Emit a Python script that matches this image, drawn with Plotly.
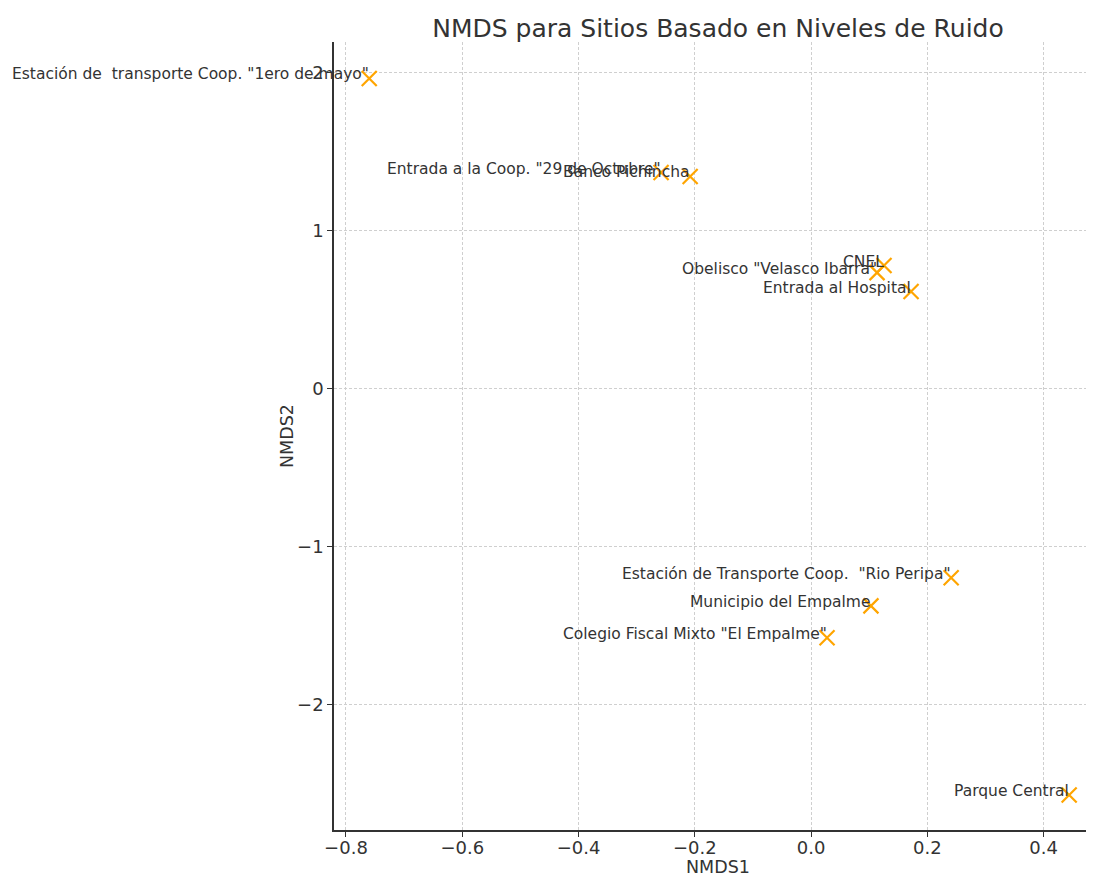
import plotly.graph_objects as go

sites = [
    'Estación de  transporte Coop. "1ero de mayo"',
    'Entrada a la Coop. "29 de Octubre"',
    'Banco Pichincha',
    'CNEL',
    'Obelisco "Velasco Ibarra"',
    'Entrada al Hospital',
    'Estación de Transporte Coop.  "Rio Peripa"',
    'Municipio del Empalme',
    'Colegio Fiscal Mixto "El Empalme"',
    'Parque Central',
]
nmds1 = [-0.760, -0.258, -0.208, 0.1255, 0.1135, 0.172, 0.241, 0.103, 0.0275, 0.444]
nmds2 = [1.965, 1.369, 1.344, 0.780, 0.735, 0.615, -1.198, -1.376, -1.578, -2.574]

x_ticks = [-0.8, -0.6, -0.4, -0.2, 0.0, 0.2, 0.4]
y_ticks = [-2, -1, 0, 1, 2]

FONT = "DejaVu Sans"
TXT = "#333333"

# page body has an 8px margin: figure spans page pixels 8..1094 x 8..876
W, H = 1086, 868
ML, MT, MB = 326, 34, 46
PW, PH = W - ML, H - MT - MB

fig = go.Figure()
fig.add_trace(go.Scatter(
    x=nmds1, y=nmds2, mode="markers",
    marker=dict(symbol="x-thin", size=15, color="#FFA500",
                line=dict(color="#FFA500", width=2.2)),
    showlegend=False, hoverinfo="skip",
))

for s, xv, yv in zip(sites, nmds1, nmds2):
    fig.add_annotation(x=xv, y=yv, text=s, showarrow=False,
                       xanchor="right", yanchor="middle", yshift=4, xshift=2,
                       font=dict(family=FONT, size=15.5, color=TXT))

# axis titles placed in plot-area paper coordinates
fig.add_annotation(x=(718 - 8 - ML) / PW, y=-(867 - 8 - (MT + PH)) / PH,
                   xref="paper", yref="paper", text="NMDS1", showarrow=False,
                   xanchor="center", yanchor="middle",
                   font=dict(family=FONT, size=17.5, color=TXT))
fig.add_annotation(x=-(ML - (287 - 8)) / PW, y=0.5,
                   xref="paper", yref="paper", text="NMDS2", showarrow=False,
                   textangle=-90, xanchor="center", yanchor="middle",
                   font=dict(family=FONT, size=17.5, color=TXT))

def tick_text(v, decimals):
    s = f"{v:.{decimals}f}"
    return s.replace("-", "\u2212")

fig.update_layout(
    width=W, height=H,
    margin=dict(l=ML, r=0, t=MT, b=MB),
    paper_bgcolor="white", plot_bgcolor="white",
    title=dict(text="NMDS para Sitios Basado en Niveles de Ruido",
               x=710 / W, xanchor="center", y=1 - 20 / H, yanchor="middle",
               font=dict(family=FONT, size=25, color=TXT)),
    xaxis=dict(
        range=[-0.8206, 0.4867],
        tickvals=x_ticks, ticktext=[tick_text(v, 1) for v in x_ticks],
        showgrid=True, gridcolor="#cfcfcf", griddash="3px,2px", gridwidth=0.8,
        zeroline=False, showline=True, linecolor="#333333", linewidth=1.5,
        ticks="outside", ticklen=5, tickcolor="#333333", tickwidth=1,
        ticklabelstandoff=-4,
        tickfont=dict(family=FONT, size=18, color=TXT),
        mirror=False,
    ),
    yaxis=dict(
        range=[-2.796, 2.196],
        tickvals=y_ticks, ticktext=[tick_text(v, 0) for v in y_ticks],
        showgrid=True, gridcolor="#cfcfcf", griddash="3px,2px", gridwidth=0.8,
        zeroline=False, showline=True, linecolor="#333333", linewidth=1.5,
        ticks="outside", ticklen=5, tickcolor="#333333", tickwidth=1,
        tickfont=dict(family=FONT, size=18, color=TXT),
        mirror=False,
    ),
)

fig.write_html("out.html")
